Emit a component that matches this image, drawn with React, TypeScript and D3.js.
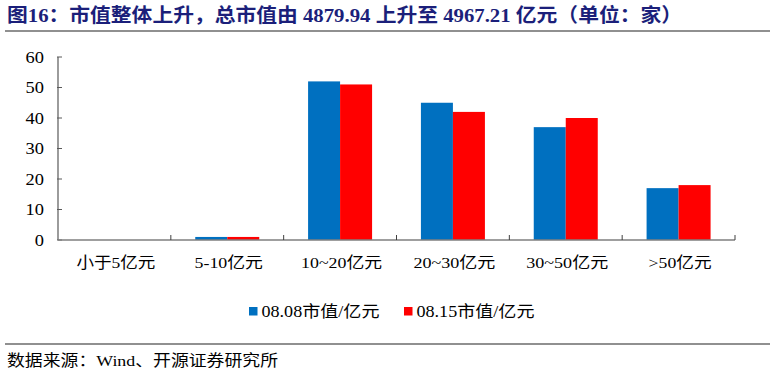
import React from "react";
import * as d3 from "d3";

const categories = ["小于5亿元", "5-10亿元", "10~20亿元", "20~30亿元", "30~50亿元", ">50亿元"];
const series0808 = [0, 1, 52, 45, 37, 17];
const series0815 = [0, 1, 51, 42, 40, 18];
const seriesNames = ["08.08市值/亿元", "08.15市值/亿元"];
const seriesColors = ["#0070C0", "#FF0000"];
const yTicks = [0, 10, 20, 30, 40, 50, 60];
const title = "图16：市值整体上升，总市值由 4879.94 上升至 4967.21 亿元（单位：家）";
const source = "数据来源：Wind、开源证券研究所";

const FONT = "'Liberation Serif', 'Times New Roman', 'Noto Sans CJK SC', serif";
const catLabelWidths = [79, 68.5, 81, 82, 82, 63];

export default function App() {
  const W = 774, H = 374;
  const x0 = 58, x1 = 735, yTop = 57, yBot = 240;
  const x = d3.scaleBand<string>().domain(categories).range([x0, x1]).paddingInner(0).paddingOuter(0);
  const y = d3.scaleLinear().domain([0, 60]).range([yBot, yTop]);
  const bw = x.bandwidth();
  const barW = 32;
  const gx = d3.scaleBand<number>().domain([0, 1]).range([0, barW * 2]);
  const series = [series0808, series0815];
  const legendX = [249, 404];

  return (
    <svg width={W} height={H} style={{ position: "absolute", left: 0, top: 0, background: "#fff" }}>
      <text x={7} y={22} fontFamily={FONT} fontWeight="bold" fontSize={19.5} fill="#1B1F7A"
        textLength={675} lengthAdjust="spacingAndGlyphs">{title}</text>
      <line x1={5} x2={770} y1={31} y2={31} stroke="#222" strokeWidth={1.2} />

      {series.map((vals, si) =>
        vals.map((v, ci) => {
          const bx = (x(categories[ci]) as number) + (bw - barW * 2) / 2 + (gx(si) as number);
          return v > 0 ? (
            <rect key={si + "-" + ci} x={bx} y={y(v)} width={gx.bandwidth()} height={yBot - y(v)} fill={seriesColors[si]} />
          ) : null;
        })
      )}

      <line x1={x0} x2={x0} y1={yTop} y2={yBot} stroke="#595959" strokeWidth={1.2} />
      {yTicks.map((t) => (
        <g key={t}>
          <line x1={x0 - 1} x2={x0 + 4} y1={y(t)} y2={y(t)} stroke="#595959" strokeWidth={1} />
          <text transform={`translate(${x0 - 14},${y(t)}) scale(1.15,1)`} dy="0.35em" textAnchor="end" fontFamily={FONT} fontSize={16} fill="#000">{t}</text>
        </g>
      ))}
      <line x1={x0} x2={x1} y1={yBot} y2={yBot} stroke="#7F7F7F" strokeWidth={1.5} />
      {categories.map((c, i) => (
        <line key={"t" + i} x1={(x(c) as number) + bw} x2={(x(c) as number) + bw} y1={yBot} y2={yBot - 5} stroke="#404040" strokeWidth={1} />
      ))}
      {categories.map((c, i) => (
        <text key={c} x={(x(c) as number) + bw / 2 - catLabelWidths[i] / 2 + 1.5} y={263} dy="0.35em" fontFamily={FONT} fontSize={15.5} fill="#000"
          textLength={catLabelWidths[i]} lengthAdjust="spacingAndGlyphs">{c}</text>
      ))}

      {seriesNames.map((n, i) => (
        <g key={n}>
          <rect x={legendX[i]} y={307} width={8.5} height={8.5} fill={seriesColors[i]} />
          <text x={legendX[i] + 12.5} y={311.5} dy="0.35em" fontFamily={FONT} fontSize={16} fill="#000"
            textLength={118} lengthAdjust="spacingAndGlyphs">{n}</text>
        </g>
      ))}

      <line x1={5} x2={770} y1={344} y2={344} stroke="#222" strokeWidth={1.2} />
      <text x={7} y={361} dy="0.35em" fontFamily={FONT} fontSize={15.5} fill="#000"
        textLength={271} lengthAdjust="spacingAndGlyphs">{source}</text>
    </svg>
  );
}
